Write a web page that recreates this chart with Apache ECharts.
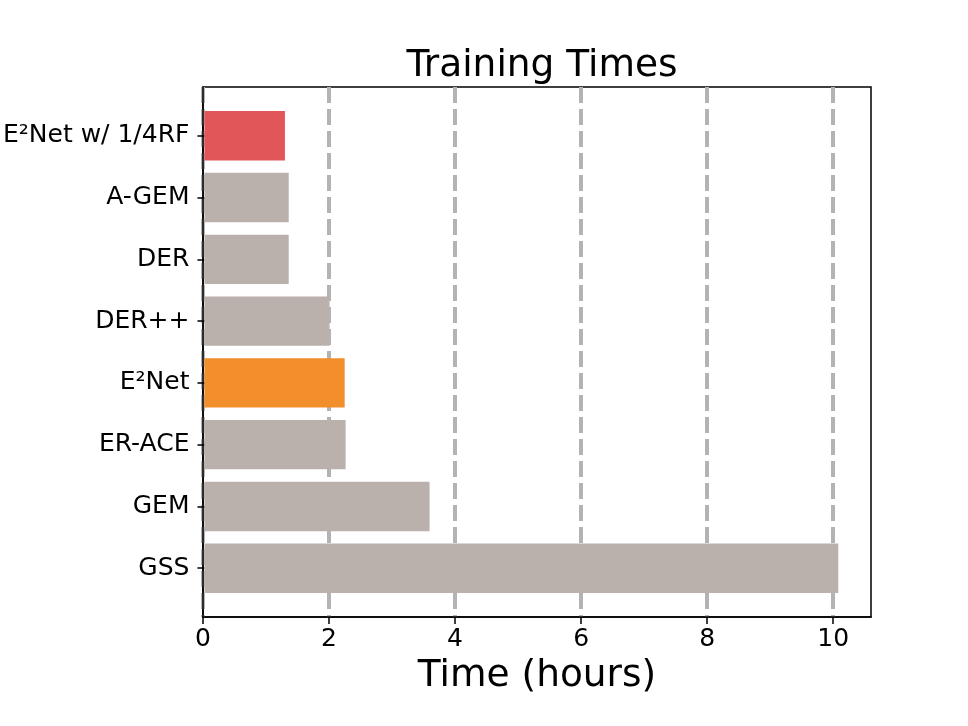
<!DOCTYPE html>
<html>
<head>
<meta charset="utf-8">
<script src="https://cdn.jsdelivr.net/npm/echarts@6/dist/echarts.min.js"></script>
<style>
html,body{margin:0;padding:0;background:#fff;}
#chart{width:968px;height:726px;}
</style>
</head>
<body>
<div id="chart"></div>
<script>
const categories = ['E\u00b2Net w/ 1/4RF', 'A-GEM', 'DER', 'DER++', 'E\u00b2Net', 'ER-ACE', 'GEM', 'GSS'];
const hours = [1.28, 1.34, 1.34, 1.99, 2.23, 2.245, 3.58, 10.08];
const barColors = ['#E15759', '#BAB0AC', '#BAB0AC', '#BAB0AC', '#F28E2B', '#BAB0AC', '#BAB0AC', '#BAB0AC'];
const xTicks = [0, 2, 4, 6, 8, 10];

const FONT = 'DejaVu Sans';
const XMIN = 0, XMAX = 10.6;

const chart = echarts.init(document.getElementById('chart'));
chart.setOption({
  animation: false,
  backgroundColor: '#fff',
  textStyle: { fontFamily: FONT },
  title: {
    text: 'Training Times',
    left: 537,
    textAlign: 'center',
    top: 42,
    textStyle: { fontFamily: FONT, fontSize: 37.5, fontWeight: 'normal', color: '#000' }
  },
  grid: [
    { left: 203, right: 97, top: 87, bottom: 109, show: true, borderColor: '#000', borderWidth: 1.5, backgroundColor: 'transparent' },
    { left: 203, right: 97, top: 104.9, bottom: 126.9 }
  ],
  xAxis: [
    {
      gridIndex: 0, type: 'value', min: XMIN, max: XMAX, interval: 2,
      name: 'Time (hours)', nameLocation: 'middle', nameGap: 36,
      nameTextStyle: { fontFamily: FONT, fontSize: 37.5, color: '#000' },
      axisLine: { show: true, lineStyle: { color: '#000', width: 1.5 } },
      axisTick: { show: true, length: 7, customValues: xTicks, lineStyle: { color: '#000', width: 1.5 } },
      axisLabel: {
        fontFamily: FONT, fontSize: 25, color: '#000', margin: 10,
        customValues: xTicks
      },
      splitLine: { show: true, lineStyle: { color: '#b3b3b3', width: 4, type: [16, 6] } }
    },
    {
      gridIndex: 1, type: 'value', min: XMIN, max: XMAX, interval: 2, show: false
    }
  ],
  yAxis: [
    {
      gridIndex: 0, type: 'value', min: 0, max: 1, z: 5,
      axisLine: { show: true, onZero: false, lineStyle: { color: '#000', width: 1.5 } },
      axisTick: { show: false }, axisLabel: { show: false }, splitLine: { show: false }
    },
    {
      gridIndex: 1, type: 'category', data: categories, inverse: true,
      axisLine: { show: false },
      axisTick: { show: true, alignWithLabel: true, length: 7, lineStyle: { color: '#000', width: 1.5 } },
      axisLabel: { fontFamily: FONT, fontSize: 25, color: '#000', margin: 15 },
      splitLine: { show: false }
    }
  ],
  series: [
    {
      type: 'bar',
      xAxisIndex: 1, yAxisIndex: 1,
      barWidth: '80%',
      data: hours.map((v, i) => ({ value: v, itemStyle: { color: barColors[i] } }))
    }
  ]
});
</script>
</body>
</html>
